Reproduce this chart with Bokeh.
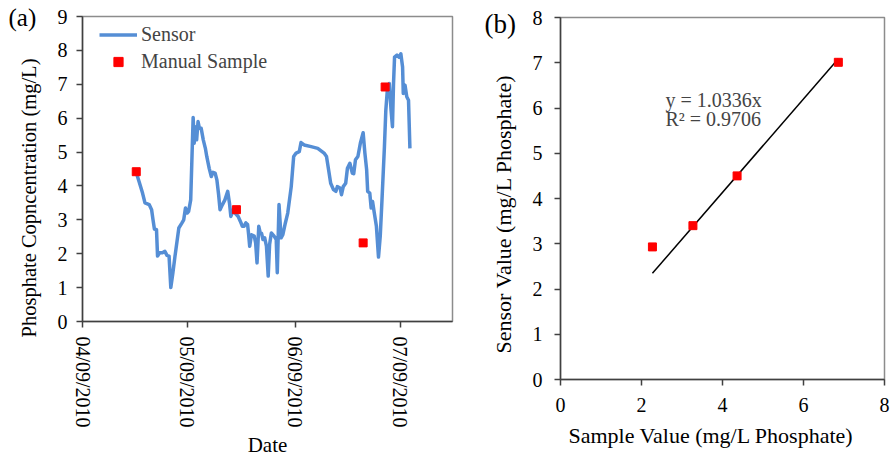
import math
import pandas as pd
from bokeh.plotting import figure
from bokeh.models import (Range1d, FixedTicker, DatetimeTickFormatter, Legend,
                          LegendItem, Label, Title)
from bokeh.embed import file_html
from bokeh.resources import INLINE

# ---------------- data ----------------
START_DATE = "2010-04-09"
END_DATE = "2010-07-24"
tick_dates = ["2010-04-09", "2010-05-09", "2010-06-09", "2010-07-09"]

sensor_day = [15.4, 16.2, 17.2, 17.9, 19.1, 19.8, 20.2, 20.6, 21.2, 21.5,
              22.1, 22.9, 23.6, 24.2, 24.8, 25.3, 25.9, 26.5, 27.6, 28.5,
              29.0, 29.5, 30.0, 30.4, 31.0, 31.7, 32.0, 32.3, 32.7, 33.1,
              33.5, 34.0, 34.6, 35.2, 35.6, 36.3, 36.9, 37.4, 38.0, 38.5,
              39.0, 39.4, 40.1, 40.8, 41.6, 42.1, 42.5, 43.2, 43.7, 44.6,
              45.2, 45.8, 46.3, 46.8, 47.3, 47.6, 47.9, 48.4, 49.2, 49.6,
              50.0, 50.5, 50.9, 51.3, 51.7, 52.2, 52.7, 53.2, 53.6, 54.1,
              54.9, 55.5, 55.8, 56.3, 56.9, 57.4, 58.1, 58.8, 59.8, 60.5,
              61.2, 62.1, 62.6, 63.5, 65.5, 67.4, 69.2, 69.9, 70.5, 71.1,
              71.9, 72.6, 73.0, 73.8, 74.2, 74.7, 75.4, 75.9, 76.6, 77.3,
              77.7, 78.2, 78.9, 79.6, 80.4, 80.9, 81.4, 81.7, 82.3, 82.7,
              83.1, 83.6, 84.2, 84.8, 85.3, 85.8, 86.5, 86.9, 87.4, 87.9,
              88.4, 88.8, 89.1, 89.4, 90.1, 90.7, 91.2, 91.7, 91.9, 92.4,
              92.9, 93.4, 93.8]
sensor_val = [4.40, 4.13, 3.79, 3.50, 3.45, 3.30, 3.00, 2.73, 2.71, 1.93,
              2.03, 2.03, 2.07, 1.95, 1.93, 1.00, 1.44, 1.93, 2.76, 2.91,
              3.00, 3.35, 3.20, 3.25, 3.59, 6.02, 5.26, 5.75, 5.36, 5.90,
              5.70, 5.70, 5.36, 5.11, 4.87, 4.52, 4.28, 4.40, 4.38, 4.18,
              3.74, 3.30, 3.45, 3.59, 3.84, 3.50, 3.10, 3.30, 3.20, 3.10,
              2.96, 2.81, 2.81, 2.91, 2.86, 2.56, 2.22, 2.56, 2.52, 2.32,
              1.73, 2.81, 2.62, 2.60, 2.42, 2.47, 2.22, 1.34, 2.27, 2.61,
              2.52, 2.42, 1.44, 3.45, 2.47, 2.56, 2.90, 3.20, 3.98, 4.87,
              4.97, 5.01, 5.28, 5.21, 5.16, 5.11, 4.97, 4.87, 4.48, 4.08,
              3.89, 3.84, 3.98, 3.94, 3.74, 3.98, 4.08, 4.52, 4.67, 4.38,
              4.36, 4.77, 4.87, 5.26, 5.57, 4.97, 4.48, 3.84, 3.79, 3.35,
              3.54, 3.20, 2.81, 1.90, 2.52, 3.59, 5.16, 6.24, 6.92, 7.02,
              6.24, 5.75, 7.02, 7.80, 7.86, 7.80, 7.90, 7.51, 6.73, 6.97,
              6.63, 6.53, 5.11]

manual_day = [15.4, 44.1, 80.4, 86.7]
manual_val = [4.42, 3.30, 2.32, 6.92]

y_ticks_a = [0, 1, 2, 3, 4, 5, 6, 7, 8, 9]

sample_value = [2.27, 3.27, 4.36, 6.86]
sensor_value = [2.93, 3.40, 4.50, 7.01]
fit_slope = 1.0336
fit_r2 = 0.9706
x_ticks_b = [0, 2, 4, 6, 8]
y_ticks_b = [0, 1, 2, 3, 4, 5, 6, 7, 8]

# ---------------- styling ----------------
FONT = "Liberation Serif"
AXIS_COL = "#404040"
OUTLINE_COL = "#8c8c8c"
LINE_BLUE = "#558ED5"


def style_axis(ax):
    ax.axis_line_color = AXIS_COL
    ax.axis_line_width = 1.5
    ax.major_tick_line_color = AXIS_COL
    ax.major_tick_line_width = 1.5
    ax.major_tick_out = 6
    ax.major_tick_in = 0
    ax.minor_tick_line_color = None
    ax.major_label_text_font = FONT
    ax.major_label_text_font_size = "20px"
    ax.major_label_text_color = "black"
    ax.axis_label_text_font = FONT
    ax.axis_label_text_font_size = "21px"
    ax.axis_label_text_font_style = "normal"
    ax.axis_label_text_color = "black"


def side_title(text, size, align, offset, standoff, valign="bottom"):
    return Title(text=text, align=align, offset=offset, standoff=standoff,
                 vertical_align=valign, text_font=FONT, text_font_size=size,
                 text_font_style="normal", text_color="black")


def ms(d):
    return pd.Timestamp(d).value / 1e6


t0 = pd.Timestamp(START_DATE)
sensor_x = list((t0 + pd.to_timedelta(sensor_day, unit="D")).to_pydatetime())
manual_x = list((t0 + pd.to_timedelta(manual_day, unit="D")).to_pydatetime())

# ---------------- panel (a) ----------------
pa = figure(width=458, height=459, x_axis_type="datetime",
            x_range=Range1d(ms(START_DATE), ms(END_DATE)),
            y_range=Range1d(min(y_ticks_a), max(y_ticks_a)),
            output_backend="svg", toolbar_location=None,
            min_border_left=80, min_border_right=6, min_border_top=16,
            min_border_bottom=138)
pa.xgrid.visible = False
pa.ygrid.visible = False
pa.outline_line_color = OUTLINE_COL
pa.outline_line_width = 1.5

l_sensor = pa.line(sensor_x, sensor_val, line_color=LINE_BLUE, line_width=3.5,
                   line_join="round")
s_manual = pa.scatter(manual_x, manual_val, marker="square", size=8,
                      fill_color="#FF0000", line_color="#FF0000")

for ax in (pa.xaxis[0], pa.yaxis[0]):
    style_axis(ax)
pa.yaxis.ticker = FixedTicker(ticks=y_ticks_a)
pa.xaxis.ticker = FixedTicker(ticks=[ms(d) for d in tick_dates])
fmt = "%m/%d/%Y"
pa.xaxis.formatter = DatetimeTickFormatter(
    microseconds=fmt, milliseconds=fmt, seconds=fmt, minsec=fmt, minutes=fmt,
    hourmin=fmt, hours=fmt, days=fmt, months=fmt, years=fmt)
pa.xaxis.major_label_orientation = -math.pi / 2
pa.xaxis.major_label_standoff = 9
pa.xaxis.axis_label = "Date"
pa.xaxis.axis_label_standoff = 2
pa.yaxis.major_label_standoff = 9

pa.add_layout(side_title("Phosphate Copncentration (mg/L)", "20.5px",
                         "left", -16, 30), "left")
pa.add_layout(side_title("(a)", "25px", "left", -74, -28), "above")

legend = Legend(items=[LegendItem(label="Sensor", renderers=[l_sensor]),
                       LegendItem(label="Manual Sample", renderers=[s_manual])],
                location=(17, 248), border_line_color=None,
                background_fill_alpha=0, label_text_font=FONT,
                label_text_font_size="20px", glyph_width=38, glyph_height=23,
                label_height=23, spacing=4, padding=0, margin=0,
                label_standoff=4)
pa.add_layout(legend)

# ---------------- panel (b) ----------------
pb = figure(width=434, height=459,
            x_range=Range1d(min(x_ticks_b), max(x_ticks_b)),
            y_range=Range1d(min(y_ticks_b), max(y_ticks_b)),
            output_backend="svg", toolbar_location=None,
            min_border_left=102, min_border_right=8, min_border_top=17,
            min_border_bottom=80)
pb.xgrid.visible = False
pb.ygrid.visible = False
pb.outline_line_color = OUTLINE_COL
pb.outline_line_width = 1.5

x0, x1 = min(sample_value), max(sample_value)
pb.line([x0, x1], [fit_slope * x0, fit_slope * x1], line_color="black",
        line_width=1.5)
pb.scatter(sample_value, sensor_value, marker="square", size=8,
           fill_color="#FF0000", line_color="#FF0000")

for ax in (pb.xaxis[0], pb.yaxis[0]):
    style_axis(ax)
pb.xaxis.ticker = FixedTicker(ticks=x_ticks_b)
pb.yaxis.ticker = FixedTicker(ticks=y_ticks_b)
pb.xaxis.major_label_standoff = 12
pb.yaxis.major_label_standoff = 12

pb.add_layout(side_title("Sensor Value (mg/L  Phosphate)", "22px",
                         "left", 26, 27), "left")
pb.add_layout(side_title("Sample Value (mg/L  Phosphate)", "22px",
                         "left", 8, 14, valign="middle"), "below")
pb.add_layout(side_title("(b)", "27px", "left", -76, -42), "above")

pb.add_layout(Label(x=2.59, y=6.17, text=f"y = {fit_slope:.4f}x",
                    text_font=FONT, text_font_size="20px",
                    text_baseline="middle"))
pb.add_layout(Label(x=2.59, y=5.75, text=f"R\u00b2 = {fit_r2:.4f}",
                    text_font=FONT, text_font_size="20px",
                    text_baseline="middle"))

# two independent roots placed side by side (no frame alignment between them)
html = file_html([pa, pb], INLINE, title="Phosphate")
side_by_side = ("<style>body{display:flex !important;flex-direction:row;"
                "align-items:flex-start;margin:0;overflow:hidden;}</style>")
html = html.replace("</head>", side_by_side + "</head>", 1)
open("out.html", "w").write(html)
